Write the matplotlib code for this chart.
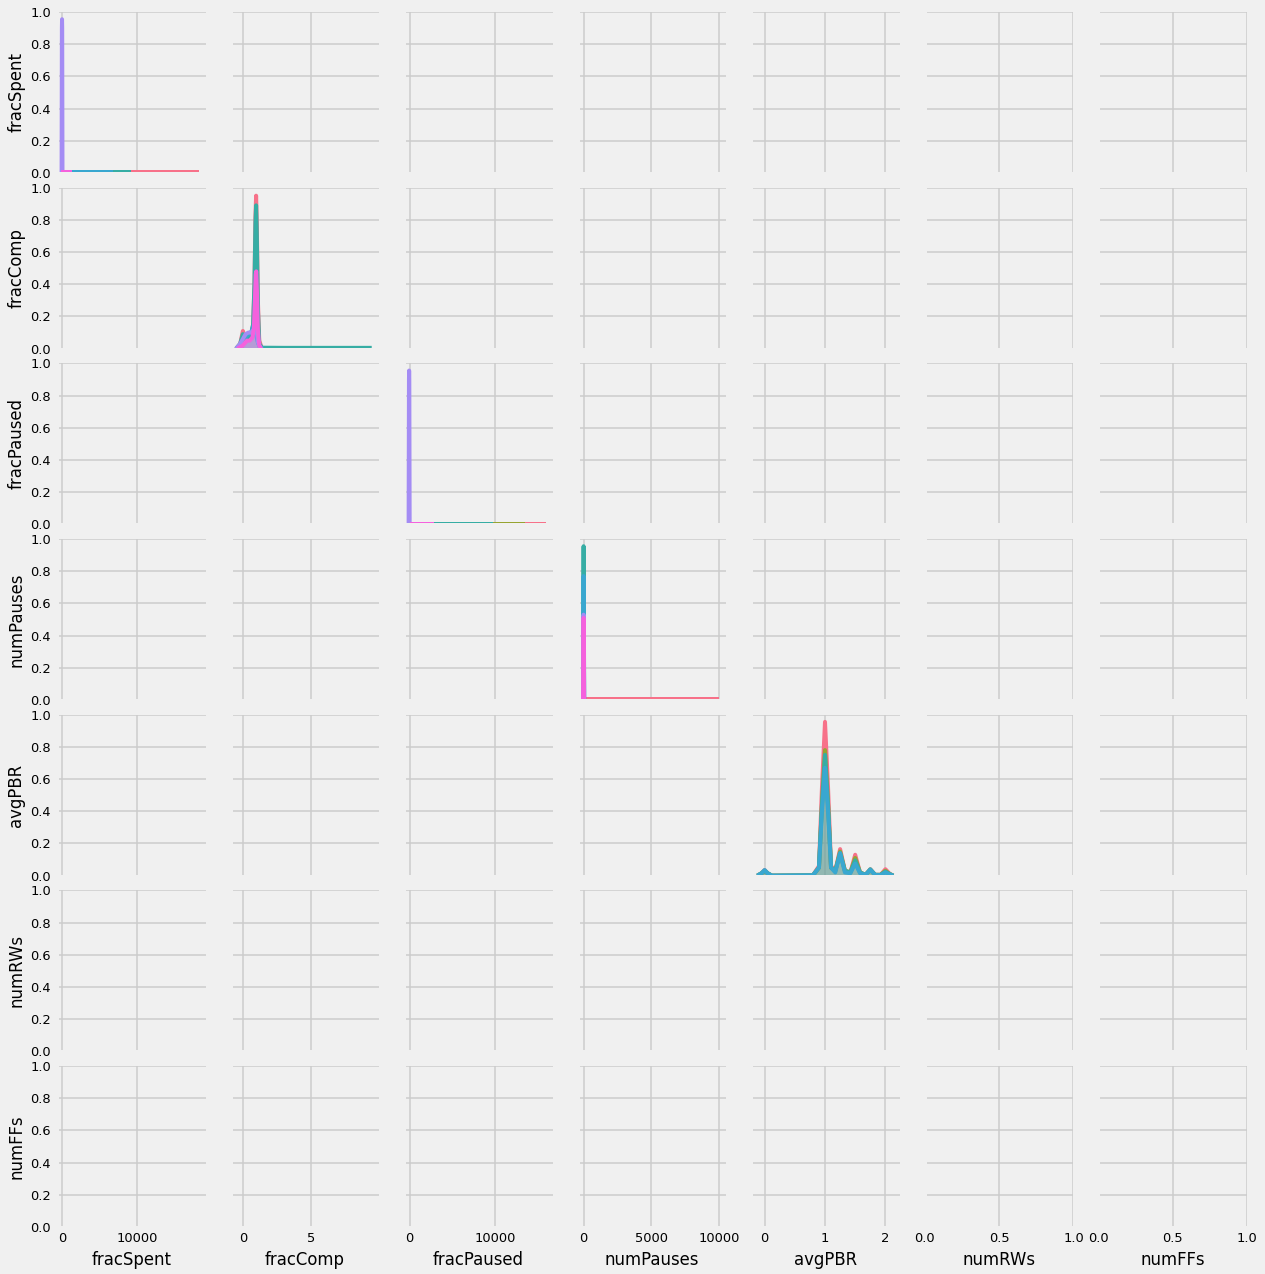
import matplotlib
matplotlib.use("Agg")
import matplotlib.pyplot as plt
import seaborn as sns

plt.style.use('fivethirtyeight')

variables = ['fracSpent', 'fracComp', 'fracPaused', 'numPauses', 'avgPBR', 'numRWs', 'numFFs']

# hue levels -> husl colours, index order is draw order
palette = sns.color_palette('husl', 8)

# diagonal kde curves: {hue index: (x points, density scaled to panel)}
frac_spent = {
    0: ([0, 18150], [0.005, 0.005]),
    4: ([0, 9100], [0.005, 0.005]),
    5: ([0, 6750], [0.005, 0.005]),
    6: ([-60, -20, 0, 20, 60], [0, 0.9, 0.955, 0.9, 0]),
    7: ([-200, 1300], [0.005, 0.005]),
}

frac_comp = {
    0: ([-0.5, -0.2, 0, 0.2, 0.4, 0.6, 0.75, 0.85, 0.92, 0.97, 1.02, 1.1, 1.2, 1.4],
        [0, 0.03, 0.11, 0.06, 0.06, 0.08, 0.15, 0.4, 0.82, 0.95, 0.78, 0.3, 0.05, 0]),
    4: ([-0.5, -0.2, 0, 0.2, 0.4, 0.6, 0.75, 0.85, 0.92, 0.97, 1.02, 1.1, 1.2, 1.4, 3, 6, 9.45],
        [0, 0.03, 0.09, 0.06, 0.07, 0.09, 0.15, 0.4, 0.78, 0.89, 0.72, 0.25, 0.03, 0.006, 0.005, 0.005, 0.005]),
    5: ([-0.5, -0.2, 0, 0.2, 0.4, 0.6, 0.8, 0.9, 1.0, 1.1, 1.25, 1.5],
        [0, 0.02, 0.06, 0.07, 0.09, 0.1, 0.15, 0.12, 0.08, 0.04, 0.01, 0]),
    6: ([-0.5, -0.2, 0, 0.2, 0.4, 0.6, 0.8, 0.9, 1.0, 1.1, 1.3],
        [0, 0.03, 0.06, 0.09, 0.1, 0.1, 0.12, 0.16, 0.12, 0.04, 0]),
    7: ([-0.4, -0.2, 0, 0.1, 0.3, 0.5, 0.7, 0.8, 0.88, 0.94, 0.98, 1.03, 1.1, 1.2, 1.35],
        [0, 0.01, 0.02, 0.03, 0.05, 0.05, 0.07, 0.12, 0.3, 0.46, 0.48, 0.36, 0.12, 0.02, 0]),
}

frac_paused = {
    0: ([0, 15900], [0.005, 0.005]),
    2: ([0, 13400], [0.005, 0.005]),
    4: ([0, 9700], [0.005, 0.005]),
    6: ([-110, -70, -50, -30, 10], [0, 0.9, 0.955, 0.9, 0]),
    7: ([0, 2900], [0.005, 0.005]),
}

num_pauses = {
    0: ([0, 10000], [0.005, 0.005]),
    4: ([-40, -12, 0, 12, 40], [0, 0.9, 0.955, 0.9, 0]),
    5: ([-40, -12, 0, 12, 40], [0, 0.73, 0.77, 0.73, 0]),
    6: ([-40, -12, 0, 12, 40], [0, 0.5, 0.53, 0.5, 0]),
    7: ([-40, -12, 0, 12, 40], [0, 0.48, 0.51, 0.48, 0]),
}

pbr_x = [-0.12, -0.05, 0, 0.05, 0.12, 0.8, 0.9, 0.95, 1.0, 1.05, 1.1,
         1.17, 1.25, 1.33, 1.42, 1.5, 1.58, 1.67, 1.75, 1.83, 1.92, 2.0, 2.07, 2.13]
avg_pbr = {
    0: (pbr_x, [0, 0.015, 0.035, 0.015, 0, 0.002, 0.06, 0.55, 0.955, 0.55, 0.06,
                0.03, 0.165, 0.03, 0.02, 0.13, 0.02, 0.005, 0.04, 0.005, 0.005, 0.04, 0.012, 0]),
    2: (pbr_x, [0, 0.015, 0.03, 0.015, 0, 0.002, 0.05, 0.45, 0.78, 0.45, 0.05,
                0.03, 0.15, 0.03, 0.02, 0.11, 0.02, 0.005, 0.035, 0.005, 0.005, 0.03, 0.01, 0]),
    4: (pbr_x, [0, 0.015, 0.03, 0.015, 0, 0.002, 0.05, 0.44, 0.75, 0.44, 0.05,
                0.03, 0.14, 0.03, 0.02, 0.095, 0.02, 0.005, 0.04, 0.005, 0.005, 0.025, 0.01, 0]),
    5: (pbr_x, [0, 0.015, 0.035, 0.015, 0, 0.002, 0.05, 0.4, 0.67, 0.4, 0.05,
                0.02, 0.14, 0.02, 0.015, 0.075, 0.015, 0.005, 0.035, 0.005, 0.004, 0.02, 0.008, 0]),
}

diag_curves = [frac_spent, frac_comp, frac_paused, num_pauses, avg_pbr, None, None]

x_limits = [(-662, 19073), (-0.9, 10.0), (-627, 16677), (-432, 10542), (-0.22, 2.24), (0, 1), (0, 1)]
x_ticks = [[0, 10000], [0, 5], [0, 10000], [0, 5000, 10000], [0, 1, 2], [0, 0.5, 1.0], [0, 0.5, 1.0]]
y_ticks = [0, 0.2, 0.4, 0.6, 0.8, 1.0]

fig, axes = plt.subplots(7, 7, figsize=(1265 / 72, 1274 / 72), dpi=72, sharex='col', sharey=True)
fig.subplots_adjust(left=0.0451, right=0.9858, bottom=0.0369, top=0.9906, wspace=0.168, hspace=0.091)

for i in range(7):
    for j in range(7):
        ax = axes[i, j]
        ax.grid(True, color='#cbcbcb', linewidth=1.5)
        ax.spines['top'].set_visible(False)
        ax.spines['right'].set_visible(False)
        ax.tick_params(axis='both', labelsize=13, length=0)
        ax.tick_params(axis='y', pad=6)
        ax.tick_params(axis='x', pad=5)

for j in range(7):
    axes[0, j].set_xlim(*x_limits[j])
    axes[0, j].set_xticks(x_ticks[j])
axes[0, 0].set_ylim(0, 1)
axes[0, 0].set_yticks(y_ticks)

for i, curves in enumerate(diag_curves):
    if curves is None:
        continue
    ax = axes[i, i]
    for hue, (xs, ys) in curves.items():
        ax.fill_between(xs, 0, ys, color=palette[hue], alpha=0.25, linewidth=0)
        ax.plot(xs, ys, color=palette[hue], linewidth=4)

for k, name in enumerate(variables):
    axes[k, 0].set_ylabel(name, fontsize=16.5, labelpad=5)
    axes[6, k].set_xlabel(name, fontsize=16.5, labelpad=6)

fig.savefig('out.png', dpi=72)
